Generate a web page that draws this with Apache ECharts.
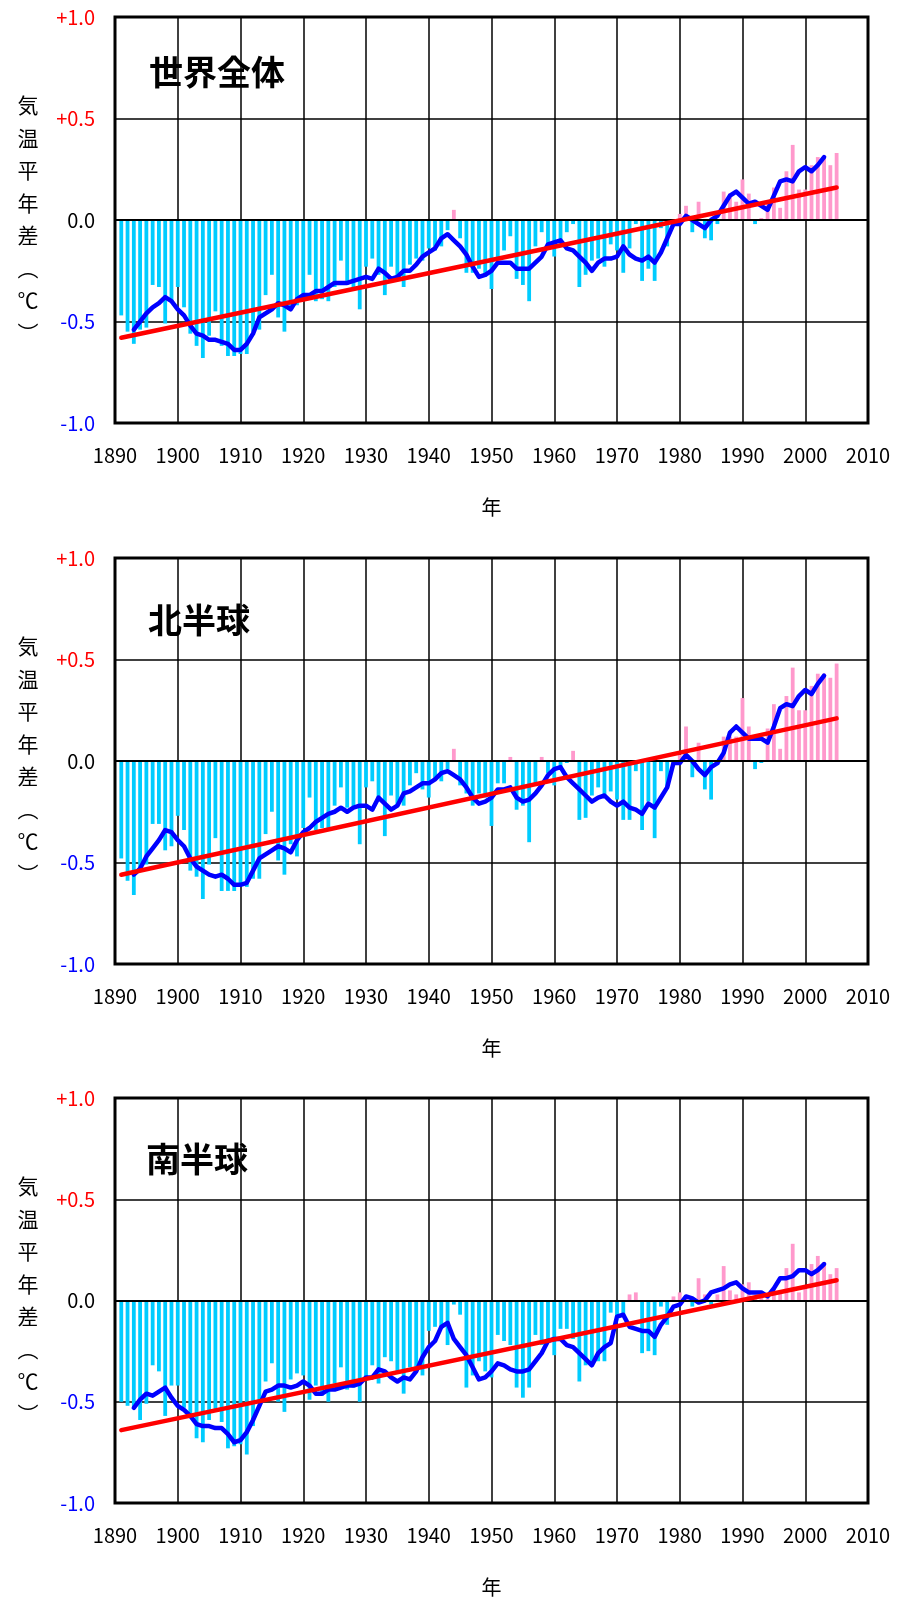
<!DOCTYPE html>
<html>
<head>
<meta charset="utf-8">
<script src="https://cdn.jsdelivr.net/npm/echarts@6/dist/echarts.min.js"></script>
<style>
html,body{margin:0;padding:0;background:#fff;}
#chart{width:898px;height:1598px;}
</style>
</head>
<body>
<div id="chart"></div>
<script>
// ---- data ----
const startYear = 1891;           // first annual bar
const lineStartYear = 1893;       // first 5-year running mean point
const panelTitles = ['世界全体', '北半球', '南半球'];
const xTicks = [1890, 1900, 1910, 1920, 1930, 1940, 1950, 1960, 1970, 1980, 1990, 2000, 2010];
const yTickLabels = ['-1.0', '-0.5', '0.0', '+0.5', '+1.0'];

// annual anomalies 1891-2005
const globalAnnual = [
 -0.47,-0.55,-0.61,-0.54,-0.53,-0.32,-0.33,-0.51,-0.40,-0.33,
 -0.43,-0.56,-0.62,-0.68,-0.57,-0.45,-0.62,-0.67,-0.67,-0.66,
 -0.66,-0.55,-0.54,-0.37,-0.27,-0.48,-0.55,-0.43,-0.42,-0.38,
 -0.27,-0.40,-0.39,-0.40,-0.33,-0.20,-0.32,-0.33,-0.44,-0.23,
 -0.19,-0.27,-0.37,-0.23,-0.28,-0.33,-0.22,-0.19,-0.20,-0.14,
 -0.15,-0.13,-0.05, 0.05,-0.09,-0.26,-0.26,-0.24,-0.28,-0.34,
 -0.19,-0.15,-0.08,-0.29,-0.32,-0.40,-0.13,-0.06,-0.13,-0.18,
 -0.12,-0.06,-0.02,-0.33,-0.27,-0.20,-0.19,-0.23,-0.12,-0.15,
 -0.26,-0.14,-0.02,-0.30,-0.24,-0.30,-0.04,-0.13,-0.03, 0.03,
  0.07,-0.06, 0.09,-0.09,-0.10,-0.02, 0.14, 0.13, 0.09, 0.20,
  0.13,-0.02, 0.01, 0.08, 0.16, 0.06, 0.24, 0.37, 0.15, 0.15,
  0.27, 0.31, 0.31, 0.27, 0.33
];
const northAnnual = [
 -0.48,-0.59,-0.66,-0.54,-0.51,-0.31,-0.31,-0.44,-0.42,-0.27,
 -0.34,-0.54,-0.57,-0.68,-0.51,-0.38,-0.64,-0.64,-0.64,-0.61,
 -0.62,-0.58,-0.58,-0.36,-0.25,-0.49,-0.56,-0.41,-0.47,-0.33,
 -0.18,-0.34,-0.33,-0.34,-0.22,-0.13,-0.23,-0.23,-0.41,-0.13,
 -0.10,-0.18,-0.37,-0.17,-0.22,-0.22,-0.12,-0.06,-0.14,-0.18,
 -0.09,-0.10,-0.04, 0.06,-0.12,-0.16,-0.22,-0.16,-0.18,-0.32,
 -0.11,-0.11, 0.02,-0.24,-0.22,-0.40,-0.11, 0.02,-0.06,-0.12,
 -0.04,-0.01, 0.05,-0.29,-0.28,-0.17,-0.13,-0.17,-0.15,-0.19,
 -0.29,-0.29,-0.05,-0.34,-0.20,-0.38,-0.05,-0.13,-0.02, 0.03,
  0.17,-0.08, 0.09,-0.14,-0.19,-0.02, 0.12, 0.12, 0.12, 0.31,
  0.17,-0.04,-0.01, 0.16, 0.28, 0.06, 0.32, 0.46, 0.25, 0.25,
  0.37, 0.43, 0.43, 0.41, 0.48
];
const southAnnual = [
 -0.50,-0.52,-0.53,-0.59,-0.51,-0.32,-0.35,-0.57,-0.42,-0.42,
 -0.53,-0.57,-0.68,-0.70,-0.59,-0.55,-0.60,-0.73,-0.72,-0.71,
 -0.76,-0.62,-0.50,-0.40,-0.31,-0.50,-0.55,-0.39,-0.36,-0.37,
 -0.49,-0.42,-0.47,-0.50,-0.41,-0.33,-0.44,-0.43,-0.50,-0.39,
 -0.32,-0.41,-0.28,-0.30,-0.35,-0.46,-0.33,-0.35,-0.37,-0.15,
 -0.13,-0.14,-0.22,-0.02,-0.07,-0.43,-0.37,-0.30,-0.35,-0.38,
 -0.17,-0.20,-0.22,-0.43,-0.48,-0.43,-0.17,-0.22,-0.20,-0.27,
 -0.14,-0.14,-0.19,-0.40,-0.32,-0.32,-0.30,-0.30,-0.06,-0.09,
 -0.07, 0.03, 0.04,-0.26,-0.25,-0.27,-0.03,-0.12, 0.02, 0.04,
  0.02,-0.03, 0.11, 0.03,-0.02, 0.03, 0.17, 0.05, 0.03, 0.08,
  0.09, 0.02, 0.03, 0.01, 0.06, 0.05, 0.16, 0.28, 0.04, 0.06,
  0.18, 0.22, 0.19, 0.13, 0.16
];

// 5-year running means 1893-2003
const globalMean = [
 -0.54,-0.50,-0.46,-0.43,-0.41,-0.38,-0.40,-0.44,-0.47,-0.52,
 -0.56,-0.57,-0.59,-0.59,-0.60,-0.61,-0.64,-0.64,-0.61,-0.56,
 -0.48,-0.46,-0.44,-0.41,-0.42,-0.44,-0.39,-0.37,-0.37,-0.35,
 -0.35,-0.33,-0.31,-0.31,-0.31,-0.30,-0.29,-0.28,-0.29,-0.24,
 -0.26,-0.29,-0.28,-0.25,-0.25,-0.22,-0.18,-0.16,-0.14,-0.09,
 -0.07,-0.10,-0.13,-0.17,-0.23,-0.28,-0.27,-0.25,-0.21,-0.21,
 -0.21,-0.24,-0.24,-0.24,-0.21,-0.18,-0.12,-0.11,-0.10,-0.14,
 -0.15,-0.18,-0.21,-0.25,-0.21,-0.19,-0.19,-0.18,-0.13,-0.17,
 -0.19,-0.20,-0.18,-0.21,-0.16,-0.09,-0.02,-0.02, 0.02, 0.00,
 -0.02,-0.04, 0.00, 0.02, 0.07, 0.12, 0.14, 0.11, 0.08, 0.09,
  0.07, 0.05, 0.12, 0.19, 0.20, 0.19, 0.24, 0.26, 0.24, 0.27,
  0.31
];
const northMean = [
 -0.56,-0.53,-0.47,-0.43,-0.39,-0.34,-0.35,-0.39,-0.42,-0.48,
 -0.52,-0.54,-0.56,-0.57,-0.56,-0.58,-0.61,-0.61,-0.60,-0.54,
 -0.48,-0.46,-0.44,-0.42,-0.43,-0.45,-0.39,-0.35,-0.33,-0.30,
 -0.28,-0.26,-0.25,-0.23,-0.25,-0.23,-0.22,-0.22,-0.24,-0.18,
 -0.21,-0.24,-0.22,-0.16,-0.15,-0.13,-0.11,-0.11,-0.09,-0.06,
 -0.05,-0.07,-0.09,-0.13,-0.18,-0.21,-0.20,-0.18,-0.14,-0.14,
 -0.13,-0.18,-0.20,-0.19,-0.16,-0.12,-0.07,-0.04,-0.03,-0.08,
 -0.11,-0.14,-0.17,-0.20,-0.18,-0.17,-0.20,-0.22,-0.20,-0.23,
 -0.24,-0.26,-0.21,-0.23,-0.18,-0.13,-0.01,-0.01, 0.03, 0.00,
 -0.04,-0.07,-0.03,-0.01, 0.04, 0.14, 0.17, 0.14, 0.11, 0.11,
  0.11, 0.09, 0.17, 0.26, 0.28, 0.27, 0.32, 0.35, 0.33, 0.38,
  0.42
];
const southMean = [
 -0.53,-0.49,-0.46,-0.47,-0.45,-0.43,-0.48,-0.52,-0.54,-0.57,
 -0.61,-0.62,-0.62,-0.63,-0.63,-0.66,-0.70,-0.69,-0.65,-0.59,
 -0.52,-0.45,-0.44,-0.42,-0.42,-0.43,-0.42,-0.40,-0.42,-0.46,
 -0.46,-0.44,-0.44,-0.43,-0.42,-0.42,-0.41,-0.38,-0.38,-0.34,
 -0.35,-0.38,-0.40,-0.38,-0.39,-0.35,-0.28,-0.23,-0.20,-0.13,
 -0.11,-0.19,-0.23,-0.27,-0.33,-0.39,-0.38,-0.35,-0.31,-0.32,
 -0.34,-0.35,-0.35,-0.34,-0.30,-0.26,-0.20,-0.19,-0.19,-0.22,
 -0.23,-0.26,-0.29,-0.32,-0.26,-0.23,-0.21,-0.08,-0.07,-0.13,
 -0.14,-0.15,-0.15,-0.18,-0.12,-0.08,-0.03,-0.02, 0.02, 0.01,
 -0.01, 0.00, 0.04, 0.05, 0.06, 0.08, 0.09, 0.06, 0.04, 0.04,
  0.04, 0.02, 0.06, 0.11, 0.11, 0.12, 0.15, 0.15, 0.13, 0.15,
  0.18
];

// linear trend end points [year, value]
const globalTrend = [[1891, -0.58], [2005, 0.16]];
const northTrend  = [[1891, -0.56], [2005, 0.21]];
const southTrend  = [[1891, -0.64], [2005, 0.10]];

// ---- chart ----
const FONT = "'Noto Sans CJK JP', 'Noto Sans', sans-serif";
const panels = [
  {annual: globalAnnual, mean: globalMean, trend: globalTrend},
  {annual: northAnnual,  mean: northMean,  trend: northTrend},
  {annual: southAnnual,  mean: southMean,  trend: southTrend}
];
const gridTops = [17, 558, 1098];
const titleTops = [50, 598, 1137];
const titleLefts = [144, 143, 141];
const PH = 406;

function pairs(arr, y0) { return arr.map((v, i) => [y0 + i, v]); }

const option = {
  backgroundColor: '#fff',
  animation: false,
  textStyle: {fontFamily: FONT},
  title: panelTitles.map((t, i) => ({
    text: t, left: titleLefts[i], top: titleTops[i],
    textStyle: {fontSize: 34, fontWeight: 'bold', color: '#000', fontFamily: FONT}
  })),
  grid: gridTops.map(t => ({
    left: 115, top: t, width: 753, height: PH,
    show: true, borderColor: '#000', borderWidth: 3, backgroundColor: '#fff'
  })),
  xAxis: gridTops.map((t, i) => ({
    type: 'value', gridIndex: i, min: xTicks[0], max: xTicks[xTicks.length - 1], interval: 10,
    axisLine: {show: false}, axisTick: {show: false},
    splitLine: {show: true, lineStyle: {color: '#000', width: 1.5}},
    axisLabel: {color: '#000', fontSize: 20, margin: 22, fontFamily: FONT,
      formatter: v => String(v)},
    name: '年', nameLocation: 'middle', nameGap: 74,
    nameTextStyle: {color: '#000', fontSize: 20, fontFamily: FONT}
  })),
  yAxis: gridTops.map((t, i) => ({
    type: 'value', gridIndex: i, min: -1, max: 1, interval: 0.5,
    axisLine: {show: false}, axisTick: {show: false},
    splitLine: {show: true, lineStyle: {color: '#000', width: 1.5}},
    axisLabel: {
      fontSize: 20, margin: 20, fontFamily: FONT,
      formatter: v => yTickLabels[Math.round((v + 1) * 2)],
      color: v => (v > 0.01 ? '#FF0000' : (v < -0.01 ? '#0000FF' : '#000'))
    }
  })),
  graphic: gridTops.map(t => ({
    type: 'text', x: 28, y: t + PH / 2 - 1,
    style: {
      text: '気\n温\n平\n年\n差\n︵\n℃\n︶',
      font: '21px ' + FONT, fill: '#000',
      align: 'center', verticalAlign: 'middle', lineHeight: 32.5
    }
  })),
  series: []
};

panels.forEach((p, i) => {
  option.series.push({
    type: 'bar', xAxisIndex: i, yAxisIndex: i,
    data: pairs(p.annual, startYear),
    barWidth: 3.8,
    itemStyle: {color: prm => (prm.value[1] >= 0 ? '#FF99CC' : '#00CCFF')},
    markLine: {
      silent: true, symbol: 'none', label: {show: false},
      lineStyle: {color: '#000', width: 2.2, type: 'solid'},
      data: [{yAxis: 0}]
    },
    z: 2
  });
  option.series.push({
    type: 'line', xAxisIndex: i, yAxisIndex: i,
    data: pairs(p.mean, lineStartYear),
    symbol: 'none', lineStyle: {color: '#0000FF', width: 4.5, cap: 'round', join: 'round'}, z: 4
  });
  option.series.push({
    type: 'line', xAxisIndex: i, yAxisIndex: i,
    data: p.trend,
    symbol: 'none', lineStyle: {color: '#FF0000', width: 4.5, cap: 'round'}, z: 5
  });
});

const chart = echarts.init(document.getElementById('chart'), null, {renderer: 'canvas'});
chart.setOption(option);
</script>
</body>
</html>
